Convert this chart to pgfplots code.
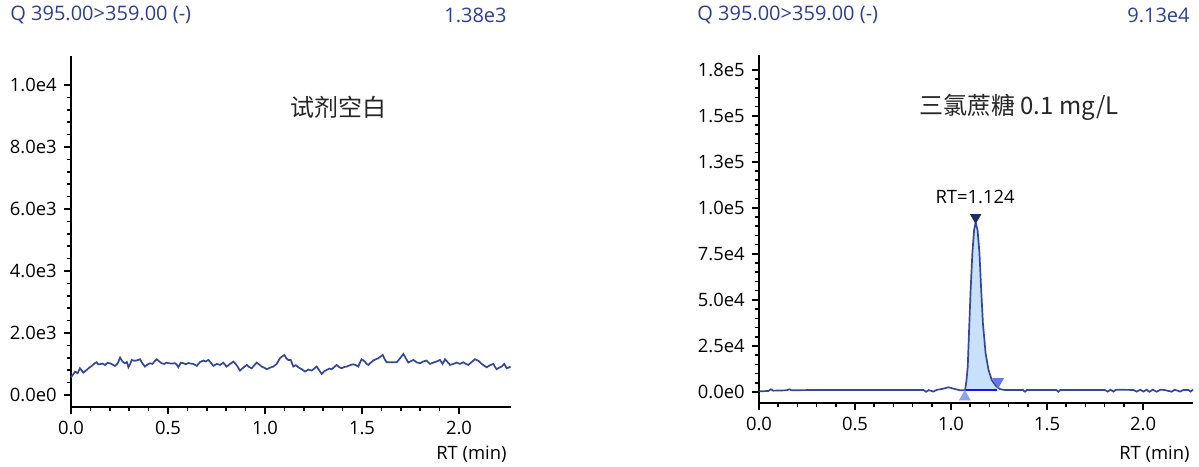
\documentclass[border=0pt]{standalone}
\usepackage{fontspec}
\setmainfont{Open Sans}
\newfontfamily\cjk{Noto Sans CJK SC}
\usepackage{pgfplots}
\pgfplotsset{compat=1.18}
\definecolor{hdr}{HTML}{2E3F8F}
\definecolor{trace}{HTML}{34489A}
\definecolor{pkfill}{HTML}{C8E0F8}
\definecolor{basecol}{HTML}{1414F0}
\definecolor{startmk}{HTML}{8CA5F2}
\definecolor{endmk}{HTML}{6478E6}
\definecolor{apexmk}{HTML}{1C2A66}
\newcommand{\tickfont}{\fontsize{9.2}{11}\selectfont}
\newcommand{\hdrfont}{\fontsize{10}{12}\selectfont}

\pgfplotsset{
  chrom/.style={
    scale only axis,
    axis lines*=left,
    axis line style={line width=1pt,black},
    tick align=outside,
    major tick length=3.6pt,
    minor tick length=2pt,
    tick style={black,line width=0.8pt},
    xmin=0,
    xtick={0,0.5,1,1.5,2},
    xticklabels={0.0,0.5,1.0,1.5,2.0},
    minor x tick num=4,
    minor y tick num=4,
    scaled y ticks=false,
    scaled x ticks=false,
    ticklabel style={font=\tickfont},
    clip=false,
  }
}

\begin{document}
\begin{tikzpicture}
\path[use as bounding box] (0,0) rectangle (599.5pt,233pt);

% headers
\node[anchor=west,inner sep=0,text=hdr,font=\hdrfont] at (5pt,225.5pt) {Q 395.00>359.00 (-)};
\node[anchor=east,inner sep=0,text=hdr,font=\hdrfont] at (253.5pt,225.5pt) {1.38e3};
\node[anchor=west,inner sep=0,text=hdr,font=\hdrfont] at (348.5pt,225.5pt) {Q 395.00>359.00 (-)};
\node[anchor=east,inner sep=0,text=hdr,font=\hdrfont] at (595pt,225.5pt) {9.13e4};

% left: reagent blank
\begin{axis}[chrom,
  at={(35.5pt,29.5pt)}, anchor=south west,
  width=220pt, height=175.5pt,
  xmax=2.268, ymin=-390, ymax=10935,
  ytick={0,2000,4000,6000,8000,10000},
  yticklabels={0.0e0,2.0e3,4.0e3,6.0e3,8.0e3,1.0e4},
]
\addplot[trace,line width=0.85pt] coordinates {
(0,570)(0.010,650)(0.021,753)(0.034,700)(0.046,860)(0.055,790)(0.064,720)(0.072,760)(0.081,806)
(0.094,880)(0.107,935)(0.120,1010)(0.132,1054)(0.141,990)(0.149,989)(0.162,1010)(0.175,968)
(0.188,1030)(0.201,1022)(0.214,980)(0.227,935)(0.240,1010)(0.253,1204)(0.265,1080)(0.278,1022)
(0.288,1060)(0.296,892)(0.305,1000)(0.313,1129)(0.328,1100)(0.342,1120)(0.356,1151)(0.368,1020)
(0.381,914)(0.394,980)(0.407,1022)(0.420,1000)(0.430,1080)(0.442,1151)(0.455,1080)(0.467,1022)
(0.480,1000)(0.492,1040)(0.505,1022)(0.520,1010)(0.536,1022)(0.545,980)(0.553,892)(0.566,1040)
(0.579,1022)(0.592,990)(0.605,1030)(0.618,1010)(0.631,1000)(0.648,935)(0.665,1060)(0.682,1108)
(0.695,1080)(0.708,1129)(0.721,1040)(0.734,935)(0.751,1000)(0.768,968)(0.785,1040)(0.802,914)
(0.820,1000)(0.837,1075)(0.854,960)(0.871,785)(0.888,880)(0.906,968)(0.918,900)(0.931,860)
(0.944,950)(0.957,1043)(0.970,980)(0.983,914)(0.996,880)(1.009,828)(1.026,880)(1.043,914)
(1.060,1000)(1.077,1183)(1.090,1250)(1.100,1290)(1.110,1180)(1.120,1129)(1.133,1129)(1.146,914)
(1.159,960)(1.172,892)(1.189,830)(1.206,753)(1.224,820)(1.241,785)(1.254,850)(1.266,914)
(1.279,800)(1.292,677)(1.305,760)(1.318,806)(1.331,850)(1.344,828)(1.357,900)(1.369,968)
(1.382,900)(1.395,860)(1.408,900)(1.421,914)(1.438,960)(1.455,989)(1.468,960)(1.481,914)
(1.490,1050)(1.498,1151)(1.507,1110)(1.515,1075)(1.524,1000)(1.533,968)(1.545,1040)(1.558,1108)
(1.571,1150)(1.584,1183)(1.596,1240)(1.607,1290)(1.617,1150)(1.627,1054)(1.645,1054)(1.662,1054)
(1.679,1054)(1.696,1180)(1.713,1323)(1.726,1180)(1.739,1043)(1.752,1090)(1.765,1129)(1.782,1050)
(1.799,1022)(1.816,1080)(1.833,1108)(1.850,1000)(1.868,1043)(1.885,1080)(1.902,1129)(1.915,1000)
(1.928,1151)(1.941,1060)(1.954,968)(1.971,1000)(1.988,1043)(2.005,1000)(2.022,1054)(2.035,1000)
(2.048,968)(2.065,1060)(2.082,1151)(2.100,1100)(2.117,1000)(2.130,940)(2.143,892)(2.160,960)
(2.177,1000)(2.186,900)(2.194,828)(2.207,880)(2.220,914)(2.233,1000)(2.246,860)(2.256,880)(2.266,914)
};
\end{axis}

% right: sucralose 0.1 mg/L
\begin{axis}[chrom,
  at={(379.5pt,31.5pt)}, anchor=south west,
  width=217pt, height=174pt,
  xmax=2.26, ymin=-6000, ymax=183000,
  ytick={0,25000,50000,75000,100000,125000,150000,175000},
  yticklabels={0.0e0,2.5e4,5.0e4,7.5e4,1.0e5,1.3e5,1.5e5,1.8e5},
]
% integrated area
\addplot[fill=pkfill,draw=none] coordinates {
(1.073,900)(1.080,6000)(1.087,13750)(1.094,33700)(1.102,55400)(1.111,75400)(1.120,88000)
(1.128,92000)(1.138,88000)(1.148,75400)(1.157,55400)(1.166,37300)(1.180,21000)(1.195,12000)
(1.212,6500)(1.234,3260)(1.240,2800)(1.240,900)
};
\addplot[basecol,line width=1.1pt] coordinates {(1.073,900)(1.240,900)};
% trace
\addplot[trace,line width=0.85pt] coordinates {
(0,300)(0.049,540)(0.061,1450)(0.075,700)(0.144,900)(0.158,1450)(0.170,900)(0.300,1087)
(0.600,1087)(0.856,1087)(0.870,100)(0.884,1000)(0.908,200)(0.925,1087)(0.960,1810)(0.986,2540)
(1.012,1810)(1.047,900)(1.073,900)(1.080,6000)(1.087,13750)(1.094,33700)(1.102,55400)
(1.111,75400)(1.120,88000)(1.128,92000)(1.138,88000)(1.148,75400)(1.157,55400)(1.166,37300)
(1.180,21000)(1.195,12000)(1.212,6500)(1.234,3260)(1.255,1500)(1.280,1087)(1.375,1087)
(1.385,100)(1.395,1087)(1.548,1087)(1.559,100)(1.570,1087)(1.800,1087)(1.816,200)(1.830,1200)
(1.845,200)(1.860,1200)(1.950,1087)(1.967,200)(1.985,1200)(2.002,200)(2.018,1200)(2.033,100)
(2.050,1200)(2.071,150)(2.090,1200)(2.110,1087)(2.149,150)(2.165,1200)(2.193,200)(2.210,1087)
(2.235,1087)(2.248,200)(2.260,1300)
};
% peak markers
\addplot[only marks,mark=triangle*,mark size=3pt,color=startmk] coordinates {(1.072,-2700)};
\addplot[only marks,mark=triangle*,mark size=3pt,color=endmk,mark options={rotate=180}] coordinates {(1.245,5600)};
\addplot[only marks,mark=triangle*,mark size=2.9pt,color=apexmk,mark options={rotate=180}] coordinates {(1.128,94800)};
\node[font=\tickfont,inner sep=0] at (axis cs:1.125,106000) {RT=1.124};
\end{axis}

% titles and axis labels
\node[font=\cjk\fontsize{12}{14}\selectfont,text=black!85,inner sep=0] at (169pt,179.5pt) {试剂空白};
\node[font=\cjk\fontsize{12}{14}\selectfont,text=black!85,inner sep=0] at (509.5pt,179.5pt) {三氯蔗糖 0.1 mg/L};
\node[anchor=east,font=\tickfont,inner sep=0] at (253.5pt,6pt) {RT (min)};
\node[anchor=east,font=\tickfont,inner sep=0] at (595pt,6pt) {RT (min)};
\end{tikzpicture}
\end{document}
